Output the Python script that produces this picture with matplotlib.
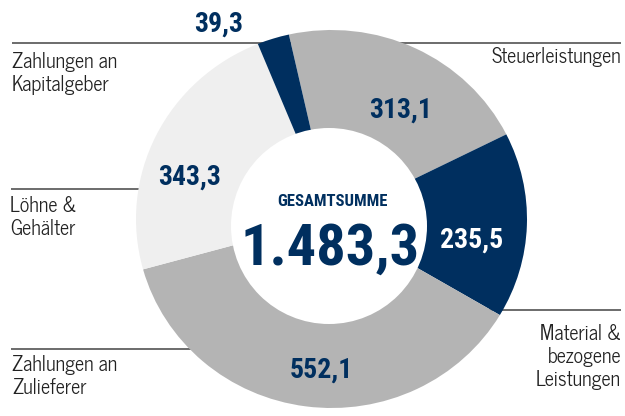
"""
Wertschoepfung: Ringdiagramm mit Gesamtsumme in der Mitte.
"""

import matplotlib

matplotlib.use("Agg")
import matplotlib.pyplot as plt
from matplotlib import font_manager
from matplotlib.patches import Circle

AUSGABE = "out.png"

# Daten (Reihenfolge im Uhrzeigersinn, beginnend bei Steuerleistungen)
KATEGORIEN = [
    "Steuerleistungen",
    "Material &\nbezogene\nLeistungen",
    "Zahlungen an\nZulieferer",
    "Löhne &\nGehälter",
    "Zahlungen an\nKapitalgeber",
]
WERTE = [313.1, 235.5, 552.1, 343.3, 39.3]
FARBEN = ["#b4b4b4", "#002f5f", "#b4b4b4", "#efefef", "#002f5f"]
WERT_FARBEN = ["#002f5f", "#ffffff", "#002f5f", "#002f5f", "#002f5f"]
TITEL_MITTE = "GESAMTSUMME"

# Layout in Pixeln (Bild 625 x 416)
BREITE, HOEHE = 625, 416
ZENTRUM = (331.5, 219)
RADIUS_X, RADIUS_Y = 195.5, 189
LOCH_ZENTRUM = (329, 226)
LOCH_RADIUS = 98
STARTWINKEL = 102.6

WERT_POS = [(401, 110), (472, 240), (321, 370), (190, 177), (219, 24)]
LABEL_POS = [(621, 47), (621, 324), (12, 355), (10, 196), (12, 52)]
LABEL_HA = ["right", "right", "left", "left", "left"]
LINIEN = [(43, 12, 621), (189, 11, 200), (349, 11, 230), (310, 450, 621)]

NAVY = "#002f5f"
TEXT = "#222222"


def erste_schrift(kandidaten: list[str]) -> list[str]:
    """Nimmt die erste installierte Schrift aus der Liste, DejaVu als Reserve."""
    installiert = {f.name for f in font_manager.fontManager.ttflist}
    for name in kandidaten:
        if name in installiert:
            return [name, "DejaVu Sans"]
    return ["DejaVu Sans"]


SCHMAL = erste_schrift(["Roboto Condensed", "PT Sans Narrow", "Archivo Narrow",
                        "Liberation Sans Narrow"])
NORMAL = erste_schrift(["News Cycle", "Liberation Sans"])


def deutsch(zahl: float) -> str:
    """1483.3 -> '1.483,3'"""
    text = f"{zahl:,.1f}"
    return text.replace(",", "X").replace(".", ",").replace("X", ".")


def main() -> None:
    fig = plt.figure(figsize=(BREITE / 100, HOEHE / 100), dpi=100)
    fig.patch.set_facecolor("white")

    # Hintergrund: Trennlinien (liegen unter dem Ring)
    ax_px = fig.add_axes([0, 0, 1, 1])
    ax_px.set_xlim(0, BREITE)
    ax_px.set_ylim(HOEHE, 0)
    ax_px.axis("off")
    for y, x0, x1 in LINIEN:
        ax_px.hlines(y, x0, x1, color="#444444", linewidth=1.1)

    # Ring
    ax_ring = fig.add_axes([0, 0, 1, 1])
    ax_ring.patch.set_alpha(0)
    ax_ring.pie(
        WERTE,
        colors=FARBEN,
        startangle=STARTWINKEL,
        counterclock=False,
        radius=1,
        wedgeprops=dict(linewidth=0),
    )
    ax_ring.set_aspect("auto")
    ax_ring.set_xlim(-ZENTRUM[0] / RADIUS_X, (BREITE - ZENTRUM[0]) / RADIUS_X)
    ax_ring.set_ylim((ZENTRUM[1] - HOEHE) / RADIUS_Y, ZENTRUM[1] / RADIUS_Y)
    ax_ring.add_patch(
        Circle(LOCH_ZENTRUM, LOCH_RADIUS, facecolor="white",
               edgecolor="none", transform=ax_px.transData)
    )
    ax_ring.axis("off")

    # Texte
    ax_txt = fig.add_axes([0, 0, 1, 1])
    ax_txt.set_xlim(0, BREITE)
    ax_txt.set_ylim(HOEHE, 0)
    ax_txt.axis("off")

    for wert, (x, y), farbe in zip(WERTE, WERT_POS, WERT_FARBEN):
        ax_txt.text(x, y, deutsch(wert), ha="center", va="center",
                    fontsize=20, fontweight="bold", color=farbe,
                    family=SCHMAL)

    for label, (x, y), ha in zip(KATEGORIEN, LABEL_POS, LABEL_HA):
        ax_txt.text(x, y, label, ha=ha, va="top", multialignment=ha,
                    fontsize=14.5, color=TEXT, family=NORMAL, linespacing=1.18)

    ax_txt.text(332, 202, TITEL_MITTE, ha="center", va="center",
                fontsize=12, fontweight="bold", color=NAVY, family=SCHMAL)
    ax_txt.text(330, 249, deutsch(sum(WERTE)), ha="center", va="center",
                fontsize=42, fontweight="bold", color=NAVY, family=SCHMAL)

    fig.savefig(AUSGABE, dpi=100, facecolor="white")


if __name__ == "__main__":
    main()
